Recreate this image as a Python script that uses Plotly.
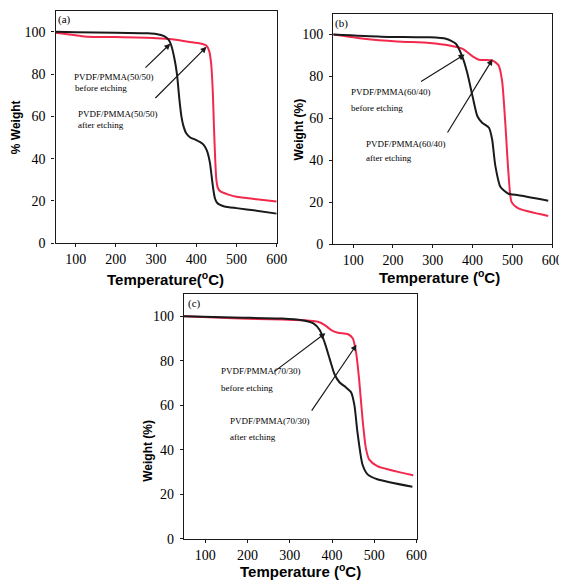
import plotly.graph_objects as go

W, H = 567, 581

# ---------------- data ----------------
# (a) PVDF/PMMA(50/50)
a_before_T = [50, 100, 200, 280, 300, 320, 330, 337, 345, 352, 358, 363, 368, 375, 385, 400, 415, 422, 428, 434, 438, 442, 446, 451, 458, 470, 500, 550, 600]
a_before_W = [100, 99.8, 99.6, 99.3, 99, 98, 96.5, 94, 88, 80, 68, 60, 55.5, 52, 50, 48.8, 47.2, 45.5, 43, 38, 32, 26, 21.5, 19.3, 18.2, 17.4, 16.6, 15.4, 14]
a_after_T = [50, 100, 130, 200, 300, 340, 380, 410, 425, 432, 437, 441, 444, 447, 450, 454, 460, 480, 500, 550, 600]
a_after_W = [99.5, 98.4, 97.7, 97.5, 97, 96.5, 95.3, 94.5, 93.5, 91, 85, 72, 55, 40, 30, 26, 24.5, 23, 22, 20.8, 19.7]

# (b) PVDF/PMMA(60/40)
b_before_T = [50, 170, 290, 333, 358, 375, 387, 400, 412, 424, 441, 449, 457, 470, 490, 515, 590]
b_before_W = [100, 99, 98.7, 98, 95.6, 89, 81.4, 70.4, 61, 57.9, 55.5, 50, 37.4, 27.2, 24, 23.3, 20.7]
b_after_T = [50, 127, 210, 292, 342, 375, 400, 416, 449, 465, 474, 482, 490, 498, 515, 590]
b_after_W = [100, 98, 96.7, 96, 94.8, 93.2, 89.6, 88, 87.7, 85.4, 78, 58, 34, 20, 17, 13.4]

# (c) PVDF/PMMA(70/30)
c_before_T = [50, 166, 282, 329, 356, 371, 383, 395, 406, 418, 433, 445, 453, 460, 472, 484, 507, 590]
c_before_W = [100, 99.4, 99, 98.2, 96.8, 93.8, 87.9, 80.5, 73.9, 70.2, 68, 65.8, 59.9, 48, 33.3, 28.9, 26.7, 23.3]
c_after_T = [50, 166, 282, 336, 367, 383, 398, 414, 437, 449, 457, 464, 472, 480, 488, 507, 592]
c_after_W = [100, 99.1, 98.5, 98.2, 97.5, 96, 93.8, 92.6, 92, 90.1, 83.5, 71.7, 54, 40.7, 35.5, 32.6, 28.5]

x_ticks = [100, 200, 300, 400, 500, 600]
y_ticks = [0, 20, 40, 60, 80, 100]

panel_labels = ["(a)", "(b)", "(c)"]
sample_labels = ["PVDF/PMMA(50/50)", "PVDF/PMMA(60/40)", "PVDF/PMMA(70/30)"]

BLACK = "#1a1a1a"
RED = "#f2294d"

fig = go.Figure()

def px2paper(px, py):
    return px / W, 1 - py / H

# domains (pixels)
doms = [
    (48.5, 274.0, 2.7, 238.5),
    (331.7, 555.0, 5.7, 239.3),
    (179.5, 416.7, 290.0, 538.0),
]

series = [
    (a_before_T, a_before_W, a_after_T, a_after_W),
    (b_before_T, b_before_W, b_after_T, b_after_W),
    (c_before_T, c_before_W, c_after_T, c_after_W),
]

for i, (bt, bw, at, aw) in enumerate(series):
    xa = "x" if i == 0 else f"x{i+1}"
    ya = "y" if i == 0 else f"y{i+1}"
    fig.add_trace(go.Scatter(x=at, y=aw, mode="lines", line=dict(color=RED, width=2, shape="spline", smoothing=0.6),
                             xaxis=xa, yaxis=ya, showlegend=False))
    fig.add_trace(go.Scatter(x=bt, y=bw, mode="lines", line=dict(color=BLACK, width=2, shape="spline", smoothing=0.6),
                             xaxis=xa, yaxis=ya, showlegend=False))

axis_common = dict(showgrid=False, zeroline=False, showline=True, linecolor=BLACK, linewidth=1.3,
                   mirror=True, ticks="outside", ticklen=3, tickwidth=1, tickcolor=BLACK,
                   tickfont=dict(family="Liberation Serif", size=14, color="black"))

layout = dict(width=W, height=H, margin=dict(l=0, r=0, t=0, b=0),
              paper_bgcolor="white", plot_bgcolor="white", showlegend=False)

for i, (x0, x1, y0, y1) in enumerate(doms):
    xk = "xaxis" if i == 0 else f"xaxis{i+1}"
    yk = "yaxis" if i == 0 else f"yaxis{i+1}"
    xa = "x" if i == 0 else f"x{i+1}"
    ya = "y" if i == 0 else f"y{i+1}"
    layout[xk] = dict(axis_common, domain=[x0 / W, x1 / W], range=[50, 600], tickvals=x_ticks,
                      anchor=ya)
    layout[yk] = dict(axis_common, domain=[1 - y1 / H, 1 - y0 / H], range=[0, 110], tickvals=y_ticks,
                      anchor=xa, ticklabelstandoff=3)

fig.update_layout(**layout)

ann = []
def text(px, py, t, size=9, family="Liberation Serif", xanchor="left", angle=0, bold=False):
    x, y = px2paper(px, py)
    if bold:
        t = f"<b>{t}</b>"
    ann.append(dict(x=x, y=y, xref="paper", yref="paper", text=t, showarrow=False,
                    xanchor=xanchor, yanchor="middle", textangle=angle,
                    font=dict(family=family, size=size, color="black")))

# panel labels
text(57.5, 11.5, panel_labels[0], size=11, xanchor="center")
text(340, 16, panel_labels[1], size=11, xanchor="center")
text(190, 300, panel_labels[2], size=11, xanchor="center")

# axis titles
text(161, 274, "Temperature(<sup>o</sup>C)", size=15, family="Liberation Sans", xanchor="center", bold=True)
text(8, 121, "% Weight", size=12, family="Liberation Sans", xanchor="center", angle=-90, bold=True)
text(440, 272, "Temperature (<sup>o</sup>C)", size=15, family="Liberation Sans", xanchor="center", bold=True)
text(297, 123, "Weight (%)", size=12, family="Liberation Sans", xanchor="center", angle=-90, bold=True)
text(298, 570, "Temperature (<sup>o</sup>C)", size=15, family="Liberation Sans", xanchor="center", bold=True)
text(142.7, 449, "Weight (%)", size=12, family="Liberation Sans", xanchor="center", angle=-90, bold=True)

# sample annotations
text(65, 70, sample_labels[0]); text(66, 80.7, "before etching")
text(69, 107.3, sample_labels[0]); text(69, 118.3, "after etching")
text(347.3, 85, sample_labels[1]); text(347.3, 101.7, "before etching")
text(362.7, 138.3, sample_labels[1]); text(362.7, 151.7, "after etching")
text(215, 368.3, sample_labels[2]); text(215, 385, "before etching")
text(224, 418.3, sample_labels[2]); text(224, 435, "after etching")

def arrow(xa, ya, tail, head):
    ann.append(dict(x=head[0], y=head[1], ax=tail[0], ay=tail[1], xref=xa, yref=ya,
                    axref=xa, ayref=ya, text="", showarrow=True, arrowhead=2, arrowsize=1,
                    arrowwidth=1.2, arrowcolor=BLACK, standoff=0))

arrow("x", "y", (270, 82.4), (335.5, 94.4))
arrow("x", "y", (294.6, 68), (425.5, 92.9))
arrow("x2", "y2", (266.8, 77.2), (380, 90.5))
arrow("x2", "y2", (334.7, 52.5), (450, 88.2))
arrow("x3", "y3", (260.5, 74.7), (384.4, 92.4))
arrow("x3", "y3", (349.5, 56.9), (458, 87.2))

fig.update_layout(annotations=ann)
fig.write_html("out.html")
